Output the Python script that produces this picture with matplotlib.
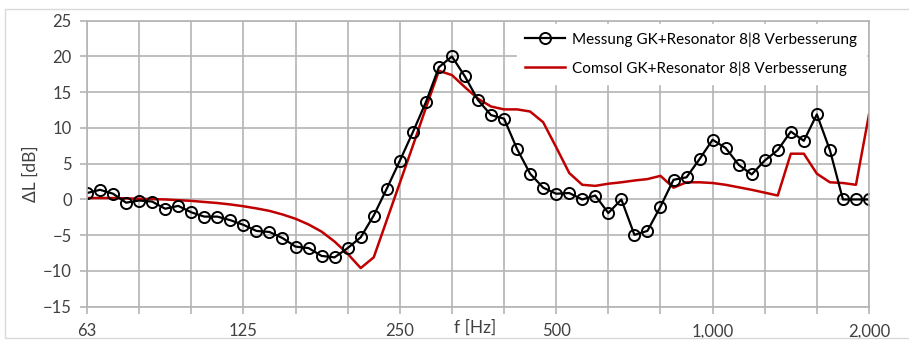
import numpy as np
import matplotlib
matplotlib.use("Agg")
import matplotlib.pyplot as plt
from matplotlib.patches import Rectangle

# 1/12-octave steps from 63 Hz to 2000 Hz
steps = np.arange(61)
freqs = 1000.0 * 2.0 ** ((steps - 48) / 12.0)

messung = [0.9, 1.35, 0.8, -0.45, -0.15, -0.3, -1.3, -0.9, -1.8, -2.4,
           -2.4, -2.9, -3.55, -4.4, -4.55, -5.4, -6.6, -6.8, -7.9, -8.1,
           -6.8, -5.3, -2.25, 1.5, 5.4, 9.4, 13.6, 18.5, 20.0, 17.2,
           13.9, 11.8, 11.3, 7.05, 3.6, 1.65, 0.8, 0.9, 0.0, 0.55,
           -1.9, 0.0, -4.95, -4.4, -1.0, 2.75, 3.1, 5.65, 8.35, 7.2,
           4.85, 3.5, 5.45, 6.9, 9.5, 8.2, 11.9, 6.9, 0.0, 0.0, 0.0]

comsol = [0.2, 0.2, 0.2, 0.15, 0.1, 0.05, 0.0, -0.1, -0.2, -0.35,
          -0.5, -0.7, -0.95, -1.25, -1.6, -2.1, -2.7, -3.5, -4.5, -5.9,
          -7.6, -9.6, -8.1, -2.9, 2.3, 7.5, 12.8, 18.0, 17.4, 15.7,
          14.1, 13.0, 12.6, 12.6, 12.3, 10.8, 7.3, 3.7, 2.05, 1.9,
          2.2, 2.4, 2.65, 2.85, 3.3, 1.65, 2.4, 2.4, 2.3, 2.05,
          1.7, 1.35, 0.95, 0.55, 6.4, 6.4, 3.6, 2.4, 2.3, 2.05, 11.9]

major_ticks = [62.5, 125, 250, 500, 1000, 2000]
major_labels = ["63", "125", "250", "500", "1,000", "2,000"]
grid_ticks = 62.5 * 2.0 ** (np.arange(16) / 3.0)

plt.rcParams['font.family'] = ['Lato', 'DejaVu Sans']
grid_col = '#b4b4b4'
text_col = '#404040'

fig = plt.figure(figsize=(9.09, 3.40), dpi=100)
fig.patches.append(Rectangle((0.006, 0.005), 1.2, 0.97, transform=fig.transFigure,
                             fill=False, edgecolor='#d9d9d9', linewidth=1.0))
ax = fig.add_axes([0.0957, 0.098, 0.8603, 0.841])

ax.plot(freqs, messung, color='black', linewidth=1.6, marker='o', markersize=8,
        markerfacecolor='none', markeredgecolor='black', markeredgewidth=1.4,
        label='Messung GK+Resonator 8|8 Verbesserung', zorder=3)
ax.plot(freqs, comsol, color='#c00000', linewidth=1.8,
        label='Comsol GK+Resonator 8|8 Verbesserung', zorder=2)

ax.set_xscale('log')
ax.set_xlim(62.5, 2000)
ax.set_ylim(-15, 25)
ax.set_xticks(major_ticks)
ax.set_xticklabels(major_labels)
ax.set_xticks(grid_ticks, minor=True)
ax.xaxis.set_minor_formatter(matplotlib.ticker.NullFormatter())
ax.set_yticks(np.arange(-15, 26, 5))
ax.grid(True, which='both', axis='x', color=grid_col, linewidth=1.2)
ax.grid(True, which='major', axis='y', color=grid_col, linewidth=1.2)
ax.tick_params(which='both', direction='out', length=5, color=grid_col, width=1.2,
               labelsize=12, labelcolor=text_col)
ax.tick_params(axis='x', pad=7)
ax.tick_params(axis='y', pad=6)
for s in ax.spines.values():
    s.set_color(grid_col)
    s.set_linewidth(1.2)
    s.set_zorder(6)

fig.text(0.034, 0.49, 'ΔL [dB]', rotation=90, ha='center', va='center',
         fontsize=12.5, color=text_col)
fig.text(0.523, 0.035, 'f [Hz]', ha='center', va='center', fontsize=12.5, color=text_col)

leg = ax.legend(loc='upper right', bbox_to_anchor=(0.996, 0.99), frameon=True,
                fontsize=11, handlelength=2.6, borderaxespad=0.0, labelspacing=0.95,
                borderpad=0.55, handletextpad=0.5)
leg.get_frame().set_edgecolor('white')
leg.get_frame().set_facecolor('white')
leg.get_frame().set_alpha(1.0)
leg.get_frame().set_boxstyle('square', pad=0)
for t in leg.get_texts():
    t.set_color('black')

fig.savefig('out.png', dpi=100)
